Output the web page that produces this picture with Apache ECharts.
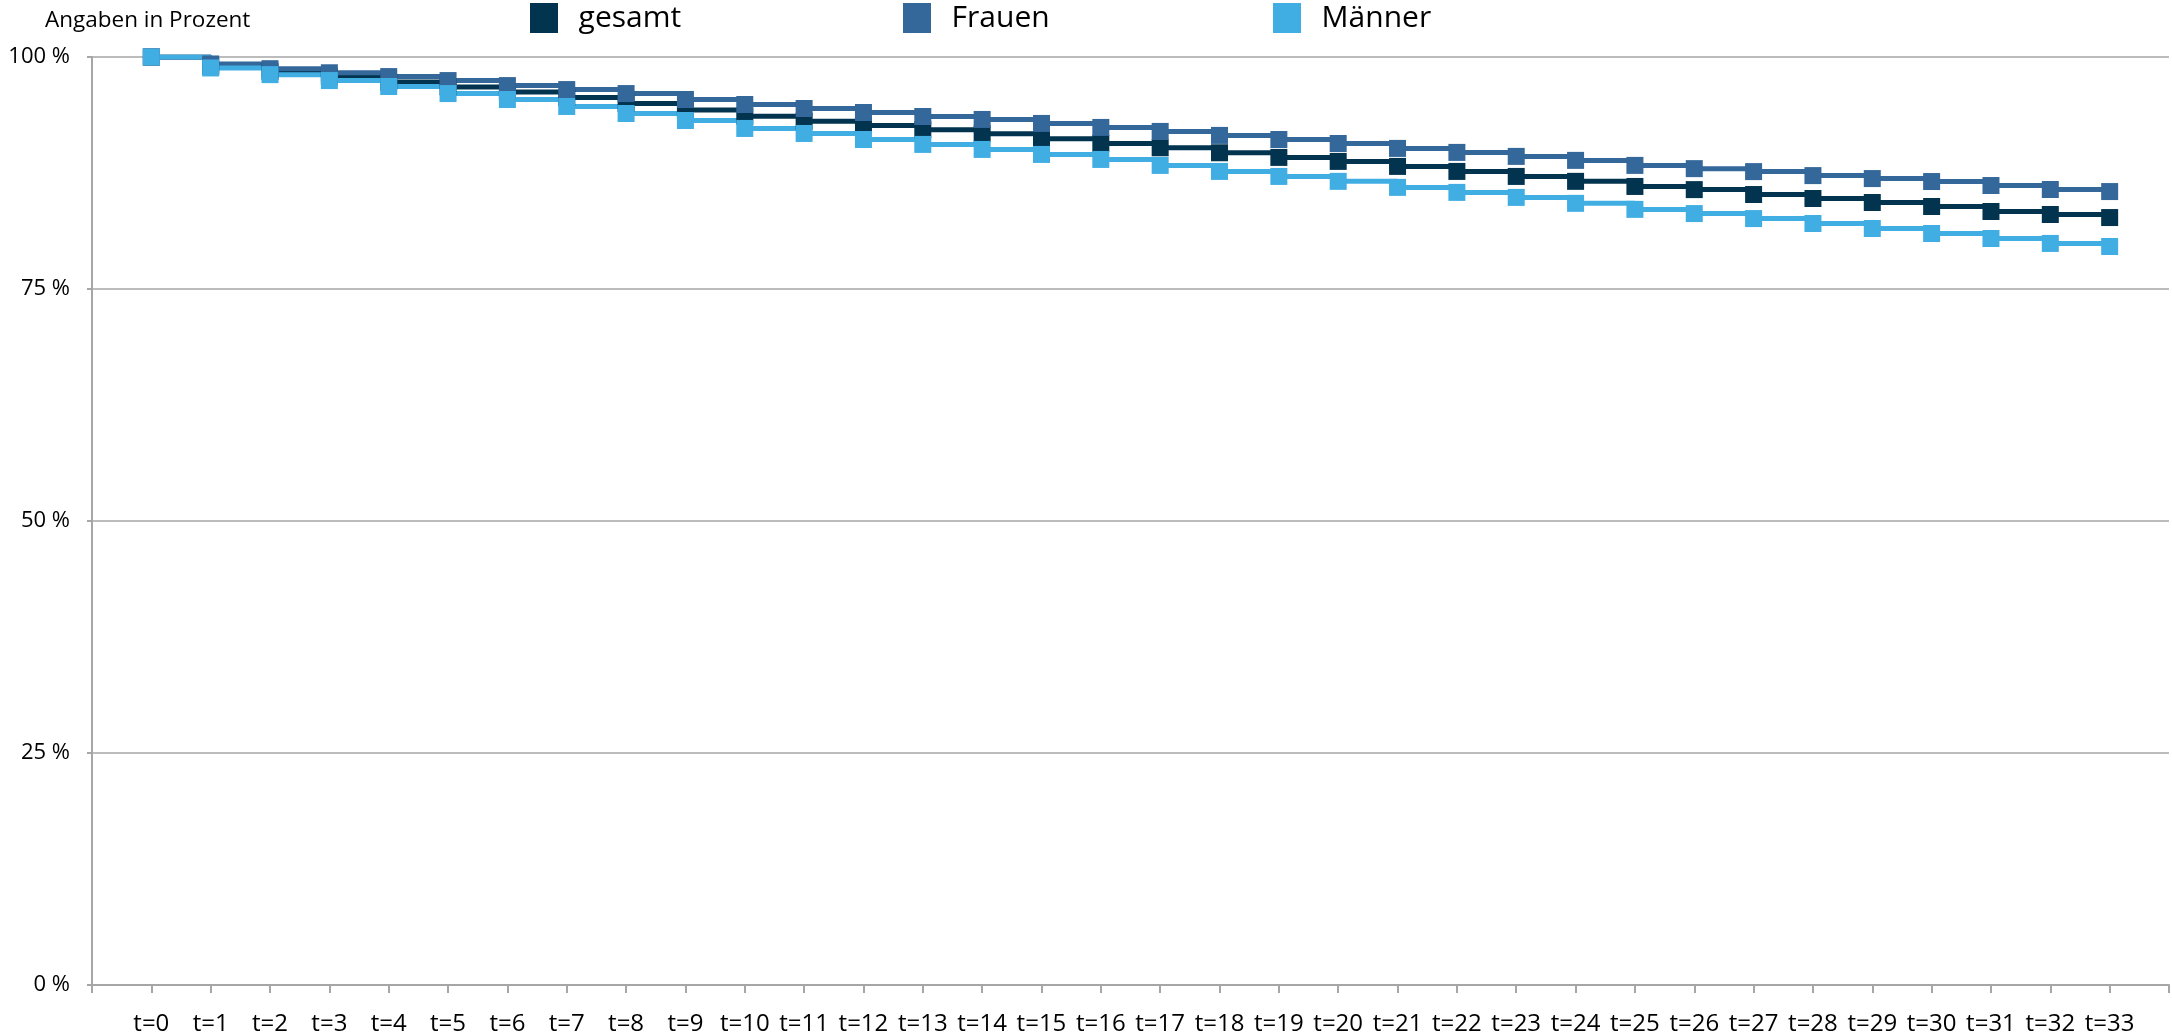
<!DOCTYPE html>
<html lang="de">
<head>
	<meta charset="UTF-8">
	<title>Angaben in Prozent</title>
	<style type="text/css">
	body,html{
		width: 100%;
		height: 100%;
		margin: 0;
		padding: 0;
		background: #fff;
	}
	#container{
		width: 2172px;
		height: 1036px;
	}
	</style>
</head>
<body>
<div id="container"></div>
<script type="text/javascript" src="https://cdn.jsdelivr.net/npm/echarts@6/dist/echarts.min.js"></script>
<script type="text/javascript">
	// Zeitpunkte (x-Achse)
	var categories = ['t=0', 't=1', 't=2', 't=3', 't=4', 't=5', 't=6', 't=7', 't=8', 't=9',
		't=10', 't=11', 't=12', 't=13', 't=14', 't=15', 't=16', 't=17', 't=18', 't=19',
		't=20', 't=21', 't=22', 't=23', 't=24', 't=25', 't=26', 't=27', 't=28', 't=29',
		't=30', 't=31', 't=32', 't=33'];

	// Werte in Prozent
	var gesamt = [100, 99.0, 98.42, 97.92, 97.31, 96.78, 96.24, 95.63, 95.0, 94.30,
		93.62, 93.08, 92.62, 92.15, 91.72, 91.18, 90.68, 90.22, 89.68, 89.18,
		88.75, 88.21, 87.67, 87.13, 86.60, 86.05, 85.71, 85.18, 84.75, 84.32,
		83.89, 83.35, 83.03, 82.70];
	var frauen = [100, 99.25, 98.74, 98.30, 97.89, 97.46, 96.92, 96.49, 96.06, 95.42,
		94.88, 94.45, 94.02, 93.59, 93.27, 92.84, 92.41, 91.98, 91.55, 91.11,
		90.68, 90.15, 89.72, 89.29, 88.86, 88.32, 87.97, 87.65, 87.22, 86.90,
		86.58, 86.15, 85.72, 85.50];
	var maenner = [100, 98.82, 98.10, 97.46, 96.82, 96.06, 95.42, 94.67, 93.91, 93.16,
		92.30, 91.76, 91.11, 90.58, 90.04, 89.50, 88.96, 88.32, 87.67, 87.13,
		86.60, 85.95, 85.41, 84.87, 84.23, 83.58, 83.13, 82.59, 82.06, 81.52,
		80.98, 80.44, 79.91, 79.58];

	var yTicks = [0, 25, 50, 75, 100];

	var seriesNames = ['gesamt', 'Frauen', 'Männer'];
	var seriesColors = ['#03344F', '#34679A', '#41AEE3'];
	var seriesValues = [gesamt, frauen, maenner];

	var font = '"Open Sans", "Noto Sans", sans-serif';
	var gray = '#A6A6A6';

	// x-Position: t=k liegt bei k+1, die Achse läuft von 0 bis 35
	function toPoints(values){
		return values.map(function (v, i) {
			return [i + 1, v];
		});
	}

	var legendLeft = [530, 903, 1273];
	var legends = seriesNames.map(function (name, i) {
		return {
			data: [name],
			left: legendLeft[i],
			top: 3,
			padding: 0,
			icon: 'rect',
			itemWidth: 28,
			itemHeight: 30,
			selectedMode: false,
			formatter: function (n) { return '  ' + n; },
			textStyle: {
				fontFamily: font,
				fontSize: 30,
				color: '#000'
			}
		};
	});

	var option = {
		animation: false,
		backgroundColor: '#fff',
		title: {
			text: 'Angaben in Prozent',
			left: 40,
			top: 4,
			textStyle: {
				fontFamily: font,
				fontSize: 22.5,
				fontWeight: 'normal',
				color: '#000'
			}
		},
		legend: legends,
		grid: {
			left: 92,
			right: 1,
			top: 57,
			bottom: 50
		},
		xAxis: {
			type: 'value',
			min: 0,
			max: categories.length + 1,
			interval: 1,
			splitLine: { show: false },
			axisLine: { lineStyle: { color: gray, width: 2 } },
			axisTick: { show: true, length: 8, lineStyle: { color: gray, width: 2 } },
			axisLabel: {
				margin: 27,
				fontFamily: font,
				fontSize: 24,
				color: '#000',
				showMinLabel: true,
				showMaxLabel: true,
				formatter: function (v) {
					var k = Math.round(v) - 1;
					return (k >= 0 && k < categories.length) ? categories[k] : '';
				}
			}
		},
		yAxis: {
			type: 'value',
			min: yTicks[0],
			max: yTicks[yTicks.length - 1],
			interval: 25,
			axisLine: { show: true, lineStyle: { color: gray, width: 2 } },
			axisTick: { show: true, length: 5, lineStyle: { color: gray, width: 2 } },
			splitLine: { lineStyle: { color: gray, width: 1.5 } },
			axisLabel: {
				margin: 22,
				fontFamily: font,
				fontSize: 22,
				color: '#000',
				formatter: '{value} %'
			}
		},
		series: seriesNames.map(function (name, i) {
			return {
				name: name,
				type: 'line',
				step: 'end',
				data: toPoints(seriesValues[i]),
				symbol: 'rect',
				symbolSize: 17,
				color: seriesColors[i],
				itemStyle: { color: seriesColors[i] },
				lineStyle: { color: seriesColors[i], width: 5 }
			};
		})
	};

	var chart = echarts.init(document.getElementById('container'));
	chart.setOption(option, true);
</script>
</body>
</html>
